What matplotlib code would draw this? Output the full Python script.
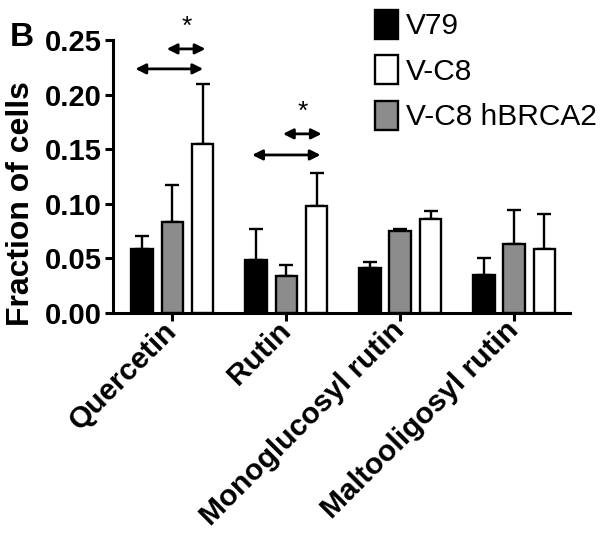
import numpy as np
import matplotlib
matplotlib.use('Agg')
import matplotlib.pyplot as plt
from matplotlib.patches import Patch
from matplotlib.transforms import ScaledTranslation

plt.rcParams['font.family'] = ['Liberation Sans', 'DejaVu Sans']

categories = ['Quercetin', 'Rutin', 'Monoglucosyl rutin', 'Maltooligosyl rutin']
series_names = ['V79', 'V-C8 hBRCA2', 'V-C8']
v79 = [0.059, 0.0485, 0.041, 0.035]
v79_err = [0.0115, 0.0287, 0.006, 0.015]
hbrca2 = [0.083, 0.0335, 0.075, 0.063]
hbrca2_err = [0.034, 0.0105, 0.0015, 0.031]
vc8 = [0.1545, 0.098, 0.086, 0.059]
vc8_err = [0.0555, 0.0305, 0.007, 0.0315]
colors = ['black', '#8c8c8c', 'white']

# significance arrows: (y, x_start, x_end) in category units
arrows = [(0.2235, -0.325, 0.27), (0.2418, -0.05, 0.29),
          (0.1447, 0.70, 1.30), (0.164, 0.97, 1.31)]
stars = [(0.13, 0.262), (1.147, 0.184)]

fig = plt.figure(figsize=(6.02, 5.45), dpi=100)
ax = fig.add_axes([0.188, 0.4257, 0.759, 0.501])

x = np.arange(len(categories))
offset = 0.265
width = 0.19
data = [(v79, v79_err), (hbrca2, hbrca2_err), (vc8, vc8_err)]
for i, (vals, errs) in enumerate(data):
    pos = x + (i - 1) * offset
    ax.bar(pos, vals, width, color=colors[i], edgecolor='black', linewidth=1.7, zorder=2)
    ax.errorbar(pos, vals, yerr=[np.zeros(len(vals)), errs], fmt='none', ecolor='black',
                elinewidth=1.7, capsize=5, capthick=1.7, zorder=1)

for y, x0, x1 in arrows:
    ax.annotate('', xy=(x1, y), xytext=(x0, y), annotation_clip=False,
                arrowprops=dict(arrowstyle='<|-|>', color='black', lw=2,
                                mutation_scale=15, shrinkA=0, shrinkB=0))
for sx, sy in stars:
    ax.text(sx, sy, '*', ha='center', va='center', fontsize=19, clip_on=False)

ax.set_xlim(-0.52, 3.49)
ax.set_ylim(0, 0.25)
ax.set_yticks([0, 0.05, 0.10, 0.15, 0.20, 0.25])
ax.set_yticklabels(['0.00', '0.05', '0.10', '0.15', '0.20', '0.25'], fontsize=21, fontweight='bold')
ax.set_xticks(x)
ax.set_xticklabels(categories, rotation=45, ha='right', va='center', rotation_mode='anchor',
                   fontsize=21.5, fontweight='bold')
shift = ScaledTranslation(-1 / 72, -15 / 72, fig.dpi_scale_trans)
for lab in ax.get_xticklabels():
    lab.set_transform(lab.get_transform() + shift)
for s in ['top', 'right']:
    ax.spines[s].set_visible(False)
for s in ['left', 'bottom']:
    ax.spines[s].set_linewidth(2.2)
ax.tick_params(width=2.2, length=6)
ax.tick_params(axis='y', pad=2)
ax.set_ylabel('Fraction of cells', fontsize=23, fontweight='bold')
ax.yaxis.set_label_coords(-0.168, 0.40)

fig.text(0.036, 0.932, 'B', fontsize=24, fontweight='bold', ha='center', va='center')

handles = [Patch(facecolor='black', edgecolor='black', linewidth=1.7, label='V79'),
           Patch(facecolor='white', edgecolor='black', linewidth=1.7, label='V-C8'),
           Patch(facecolor='#8c8c8c', edgecolor='black', linewidth=1.7, label='V-C8 hBRCA2')]
fig.legend(handles=handles, loc='upper left', bbox_to_anchor=(0.588, 1.02), frameon=False,
           fontsize=21.5, handlelength=0.78, handleheight=1.1, handletextpad=0.25, labelspacing=0.5,
           borderpad=0.2)

fig.savefig('out.png', dpi=100)
